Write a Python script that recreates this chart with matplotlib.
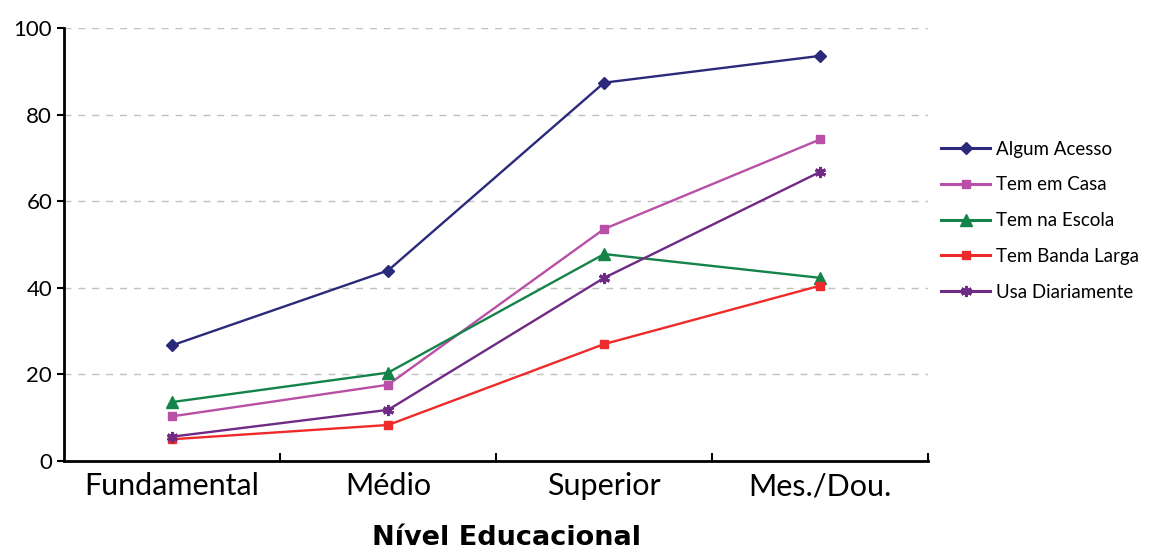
import matplotlib.pyplot as plt

plt.rcParams['font.family'] = ['Lato', 'DejaVu Sans']

# Niveis educacionais e percentuais por indicador
niveis = ['Fundamental', 'Médio', 'Superior', 'Mes./Dou.']
algum_acesso = [26.7, 44.0, 87.4, 93.6]
tem_em_casa = [10.3, 17.6, 53.6, 74.3]
tem_na_escola = [13.6, 20.4, 47.8, 42.3]
banda_larga = [5.0, 8.3, 27.0, 40.5]
usa_diariamente = [5.6, 11.8, 42.3, 66.8]

series = [
    ('Algum Acesso', algum_acesso, '#2b2a7a', 'D', 6),
    ('Tem em Casa', tem_em_casa, '#b94fa6', 's', 6),
    ('Tem na Escola', tem_na_escola, '#13834a', '^', 8),
    ('Tem Banda Larga', banda_larga, '#ee2a2a', 's', 6),
    ('Usa Diariamente', usa_diariamente, '#6e2a84', (6, 2, 0), 8),
]

fig = plt.figure(figsize=(11.57, 5.52), dpi=100)
ax = fig.add_axes([0.0553, 0.165, 0.747, 0.784])

x = list(range(len(niveis)))
for nome, vals, cor, mk, ms in series:
    ax.plot(x, vals, color=cor, lw=1.7, marker=mk, markersize=ms,
            markeredgecolor=cor, markerfacecolor=cor,
            markeredgewidth=2.2 if mk == (6, 2, 0) else 1, label=nome)

ax.set_xlim(-0.5, 3.5)
ax.set_ylim(0, 100)
ax.set_yticks([0, 20, 40, 60, 80, 100])
ax.yaxis.grid(True, linestyle=(0, (5, 5)), color='#c0c0c0', lw=1)
ax.set_axisbelow(True)

ax.set_xticks(x)
ax.set_xticklabels(niveis, fontsize=22)
ax.set_xticks([0.5, 1.5, 2.5, 3.5], minor=True)
ax.tick_params(axis='x', which='major', length=0, pad=8)
ax.tick_params(axis='x', which='minor', direction='in', length=6, width=1.5)
ax.tick_params(axis='y', direction='out', length=5, width=1.5, labelsize=16)

for s in ['top', 'right']:
    ax.spines[s].set_visible(False)
for s in ['left', 'bottom']:
    ax.spines[s].set_linewidth(2)

# titulo do eixo x, largo e em negrito
ax.set_xlabel('Nível Educacional', fontsize=19.5, fontweight='bold',
              family='DejaVu Sans', va='baseline')
ax.xaxis.set_label_coords(0.512, -0.194)

leg = ax.legend(loc='center left', bbox_to_anchor=(1.0, 0.555), frameon=False,
                fontsize=13.5, handlelength=2.6, labelspacing=1.0,
                handletextpad=0.3, borderaxespad=0.3)
for linha in leg.get_lines():
    linha.set_linewidth(2.2)

fig.savefig('out.png', dpi=100)
